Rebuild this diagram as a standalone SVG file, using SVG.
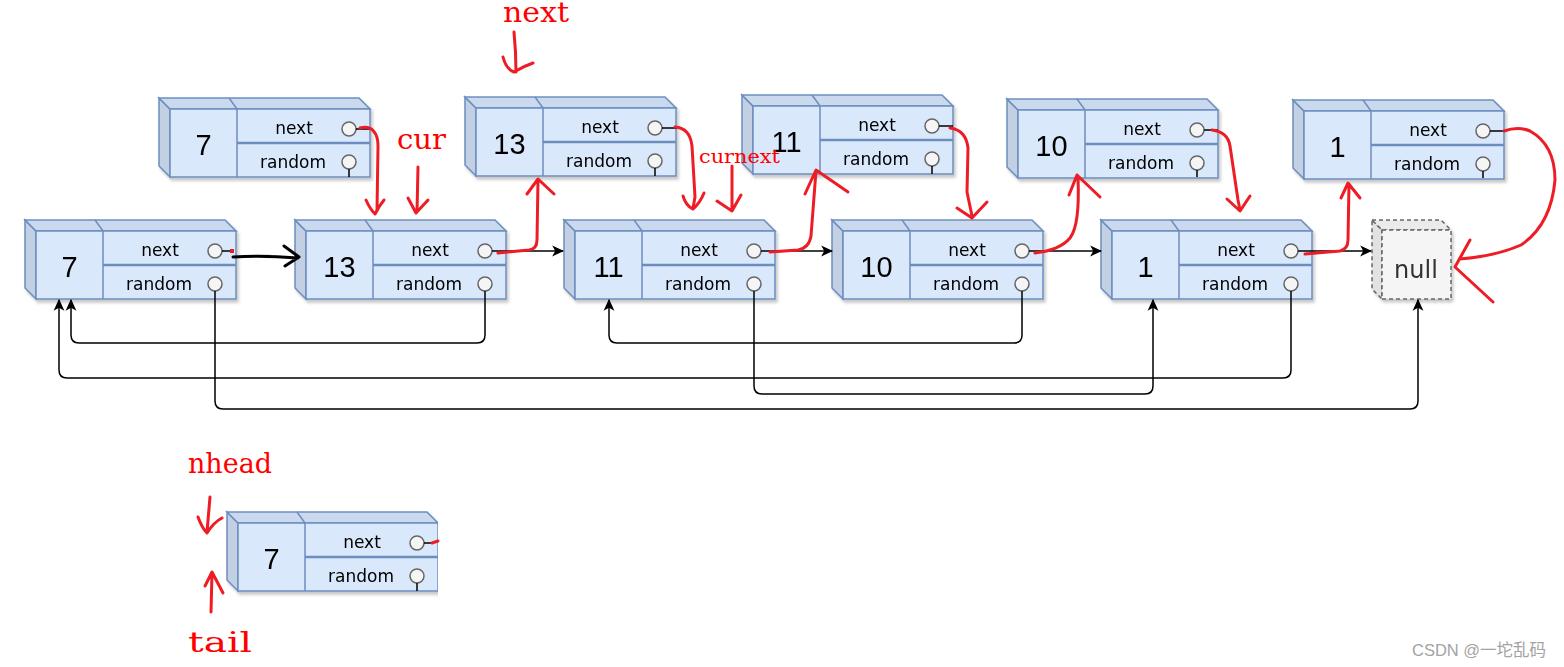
<svg xmlns="http://www.w3.org/2000/svg" width="1564" height="667" viewBox="0 0 1564 667">
<defs>
  <style>
    .side{fill:#c3cfe3;stroke:#6c8ebf;stroke-width:1.5}
    .topf{fill:#cbd9ef;stroke:#6c8ebf;stroke-width:1.5}
    .front{fill:#dae8fc;stroke:#6c8ebf;stroke-width:1.5}
    .div{stroke:#6c8ebf;stroke-width:1.5;fill:none}
    .hdiv{stroke:#6c8ebf;stroke-width:2.5;fill:none}
    .ptr{fill:#f5f5f5;stroke:#666;stroke-width:1.5}
    .val{font-family:"Liberation Sans",Arial,sans-serif;font-size:29px;fill:#000;text-anchor:middle}
    .fld{font-family:"DejaVu Sans",sans-serif;font-size:17px;fill:#000;text-anchor:middle}
    .conn{fill:none;stroke:#000;stroke-width:1.5}
    .stub{fill:none;stroke:#000;stroke-width:1.5}
    .red{fill:none;stroke:#ee1c25;stroke-width:3;stroke-linecap:round;stroke-linejoin:round}
    .redt{font-family:"DejaVu Serif","Liberation Serif",serif;fill:#ff0000}
    .hand{fill:none;stroke:#000;stroke-width:3;stroke-linecap:round;stroke-linejoin:round}
  </style>
  <filter id="sh" x="-10%" y="-10%" width="130%" height="140%">
    <feDropShadow dx="2" dy="3" stdDeviation="1.5" flood-color="#000" flood-opacity="0.22"/>
  </filter>
  <marker id="arr" viewBox="0 0 10 10" refX="9" refY="5" markerWidth="12" markerHeight="12" orient="auto" markerUnits="userSpaceOnUse">
    <path d="M0,0.5 L10,5 L0,9.5 L2.5,5 z" fill="#000"/>
  </marker>
  <g id="cube">
    <polygon class="side" points="0,0 11,11 11,79 0,68"/>
    <polygon class="topf" points="0,0 200,0 211,11 11,11"/>
    <line class="div" x1="70" y1="0" x2="78" y2="11"/>
    <rect class="front" x="11" y="11" width="200" height="68"/>
    <line class="div" x1="78" y1="11" x2="78" y2="79"/>
    <line class="hdiv" x1="78" y1="45" x2="211" y2="45"/>
    <circle class="ptr" cx="190" cy="31" r="7"/>
    <circle class="ptr" cx="190" cy="64" r="7"/>
    <text class="fld" x="135" y="36">next</text>
    <text class="fld" x="134" y="70">random</text>
  </g>
  <clipPath id="clipN"><rect x="0" y="0" width="438" height="667"/></clipPath>
</defs>
<rect width="1564" height="667" fill="#fff"/>

<!-- top row copies -->
<g id="topA" filter="url(#sh)" transform="translate(159,98)"><use href="#cube"/><text class="val" x="44.5" y="57">7</text></g>
<g id="topB" filter="url(#sh)" transform="translate(465,97)"><use href="#cube"/><text class="val" x="44.5" y="57">13</text></g>
<g id="topC" filter="url(#sh)" transform="translate(742,95)"><use href="#cube"/><text class="val" x="44.5" y="57">11</text></g>
<g id="topD" filter="url(#sh)" transform="translate(1007,99)"><use href="#cube"/><text class="val" x="44.5" y="57">10</text></g>
<g id="topE" filter="url(#sh)" transform="translate(1293,100)"><use href="#cube"/><text class="val" x="44.5" y="57">1</text></g>

<!-- bottom row original list -->
<g id="n7" filter="url(#sh)" transform="translate(25,220)"><use href="#cube"/><text class="val" x="44.5" y="57">7</text></g>
<g id="n13" filter="url(#sh)" transform="translate(295,220)"><use href="#cube"/><text class="val" x="44.5" y="57">13</text></g>
<g id="n11" filter="url(#sh)" transform="translate(564,220)"><use href="#cube"/><text class="val" x="44.5" y="57">11</text></g>
<g id="n10" filter="url(#sh)" transform="translate(832,220)"><use href="#cube"/><text class="val" x="44.5" y="57">10</text></g>
<g id="n1" filter="url(#sh)" transform="translate(1101,220)"><use href="#cube"/><text class="val" x="44.5" y="57">1</text></g>

<g id="null" filter="url(#sh)">
  <polygon points="1372,220 1382,230 1382,299 1372,289" fill="#e2e2e2" stroke="#666" stroke-width="1.5" stroke-dasharray="4 3"/>
  <polygon points="1372,220 1441,220 1451,230 1382,230" fill="#ebebeb" stroke="#666" stroke-width="1.5" stroke-dasharray="4 3"/>
  <rect x="1382" y="230" width="69" height="69" fill="#f5f5f5" stroke="#666" stroke-width="1.5" stroke-dasharray="4 3"/>
  <text x="1416" y="278" font-family="DejaVu Sans,sans-serif" font-size="24" fill="#333" text-anchor="middle">null</text>
</g>

<!-- new head node (clipped) -->
<g id="nhead" clip-path="url(#clipN)">
  <g filter="url(#sh)" transform="translate(227,512)"><use href="#cube"/><text class="val" x="44.5" y="57">7</text></g>
</g>

<!-- connectors -->
<g id="connectors">
  <path class="stub" d="M356,129 H370 M349,169 V177 M662,128 H677 M655,168 V176 M939,126 H953 M932,166 V174 M1204,130 H1218 M1197,170 V177 M1490,131 H1503 M1483,171 V178 M424,543 H432 M417,583 V591 M222,251 H232"/>
  <path class="conn" d="M492,251 H563" marker-end="url(#arr)"/>
  <path class="conn" d="M761,251 H832" marker-end="url(#arr)"/>
  <path class="conn" d="M1029,251 H1101" marker-end="url(#arr)"/>
  <path class="conn" d="M1298,251 H1371" marker-end="url(#arr)"/>
  <path class="conn" d="M215,291 V401 Q215,409 223,409 H1410 Q1418,409 1418,401 V300" marker-end="url(#arr)"/>
  <path class="conn" d="M485,291 V335 Q485,343 477,343 H79 Q71,343 71,335 V300" marker-end="url(#arr)"/>
  <path class="conn" d="M754,291 V386 Q754,394 762,394 H1145 Q1153,394 1153,386 V300" marker-end="url(#arr)"/>
  <path class="conn" d="M1022,291 V335 Q1022,343 1014,343 H617 Q609,343 609,335 V300" marker-end="url(#arr)"/>
  <path class="conn" d="M1291,291 V370 Q1291,378 1283,378 H67 Q59,378 59,370 V300" marker-end="url(#arr)"/>
  <path class="hand" d="M233,257 Q262,255 298,258 M284,246 L299,257 L285,266"/>
</g>

<!-- red annotations -->
<g id="annotations">
  <rect x="230" y="249" width="4" height="4" fill="#ee1c25"/>
  <path class="red" d="M360,128 C372,125 378,133 378,146 L377,211 M366,200 Q370,209 375,214 Q379,206 384,200"/>
  <path class="red" d="M418,167 L417,212 M408,198 L416,213 L428,200"/>
  <path class="red" d="M514,32 Q516,52 516,72 M503,57 Q506,69 514,72 Q524,66 533,63"/>
  <path class="red" d="M498,253 L529,250 Q537,249 537,240 L538,180 M527,194 L538,179 L554,194"/>
  <path class="red" d="M675,127 Q690,128 692,146 L695,197 L693,208 M683,196 Q686,206 693,209 Q700,203 704,193"/>
  <path class="red" d="M732,166 L732,210 M717,201 L732,211 L741,195"/>
  <path class="red" d="M770,252 L798,250 Q809,248 811,236 L816,171 M805,194 L816,170 L848,192"/>
  <path class="red" d="M950,128 Q966,130 968,148 L967,192 L972,216 M957,208 L972,218 L987,202"/>
  <path class="red" d="M1035,253 Q1060,250 1070,238 Q1080,225 1078,178 M1069,195 L1077,175 L1100,197"/>
  <path class="red" d="M1212,130 Q1228,132 1230,146 L1238,200 L1240,210 M1227,199 L1240,211 L1250,196"/>
  <path class="red" d="M1305,254 L1340,251 Q1348,249 1348,240 L1349,184 M1341,198 L1348,183 L1360,198"/>
  <path class="red" d="M1504,131 Q1518,126 1530,131 Q1555,145 1555,180 Q1551,225 1521,245 Q1496,256 1460,259 M1470,240 L1455,267 L1493,302"/>
  <path class="red" d="M210,497 L207,532 M198,517 Q202,528 207,533 Q214,522 222,518"/>
  <path class="red" d="M211,612 L212,573 M205,586 L212,572 L223,593"/>
  <path class="red" d="M432,543 L438,541"/>
  <text class="redt" x="503" y="22" font-size="27" textLength="66" lengthAdjust="spacingAndGlyphs">next</text>
  <text class="redt" x="397" y="149" font-size="27" textLength="49" lengthAdjust="spacingAndGlyphs">cur</text>
  <text class="redt" x="699" y="163" font-size="18" textLength="81" lengthAdjust="spacingAndGlyphs">curnext</text>
  <text class="redt" x="188" y="473" font-size="27" textLength="84" lengthAdjust="spacingAndGlyphs">nhead</text>
  <text class="redt" x="188" y="652" font-size="27" textLength="64" lengthAdjust="spacingAndGlyphs">tail</text>
</g>

<text x="1412" y="656" font-family="Liberation Sans,Noto Sans CJK SC,sans-serif" font-size="16.5" fill="#a3a3a3">CSDN @一坨乱码</text>
</svg>
